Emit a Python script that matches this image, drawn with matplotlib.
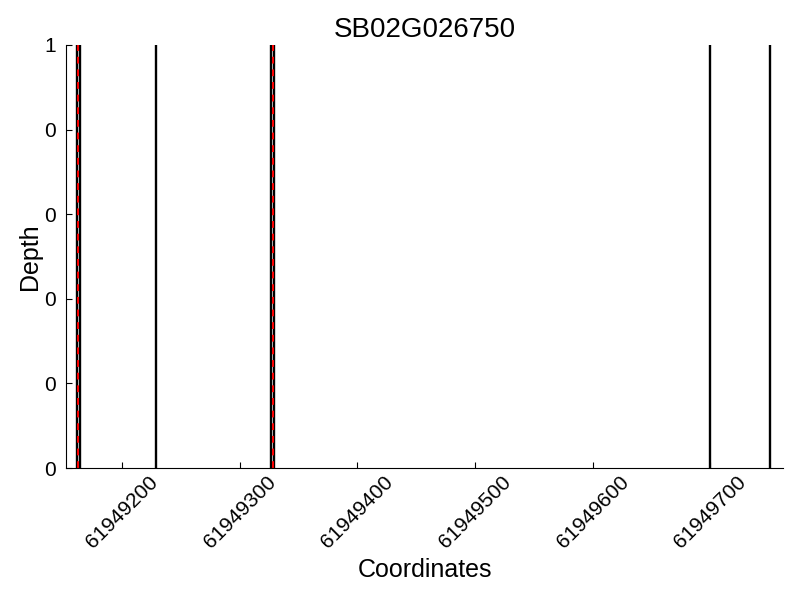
import matplotlib
matplotlib.use("Agg")
import matplotlib.pyplot as plt
from matplotlib.ticker import FormatStrFormatter

gene = "SB02G026750"
# exon boundaries (black) and variant/feature positions (red dashed)
boundaries = [61949162, 61949164, 61949229, 61949327, 61949329, 61949700, 61949751]
red_marks = [61949163, 61949328]
xticks = [61949200, 61949300, 61949400, 61949500, 61949600, 61949700]
yticks = [0, 0.2, 0.4, 0.6, 0.8, 1.0]

plt.rcParams['font.family'] = ['Liberation Sans', 'DejaVu Sans']

fig = plt.figure(figsize=(8, 6), dpi=100)
ax = fig.add_axes([0.0825, 0.22, 0.8965, 0.705])

for b in boundaries:
    ax.axvline(b, color='black', lw=1.7)
for r in red_marks:
    ax.axvline(r, color='red', lw=1.4, ls=(0, (3.5, 3)))

ax.set_xlim(61949152.4, 61949762)
ax.set_ylim(0, 1)
ax.set_xticks(xticks)
ax.set_xticklabels([str(x) for x in xticks], rotation=45, fontsize=15)
ax.set_yticks(yticks)
ax.yaxis.set_major_formatter(FormatStrFormatter('%d'))
ax.tick_params(axis='y', labelsize=15, pad=7)
ax.tick_params(direction='in', length=4, top=False, right=False)

ax.spines['top'].set_visible(False)
ax.spines['right'].set_visible(False)

ax.set_title(gene, fontsize=20)
ax.set_xlabel("Coordinates", fontsize=18)
ax.set_ylabel("Depth", fontsize=18, labelpad=2)

fig.savefig("out.png", dpi=100)
